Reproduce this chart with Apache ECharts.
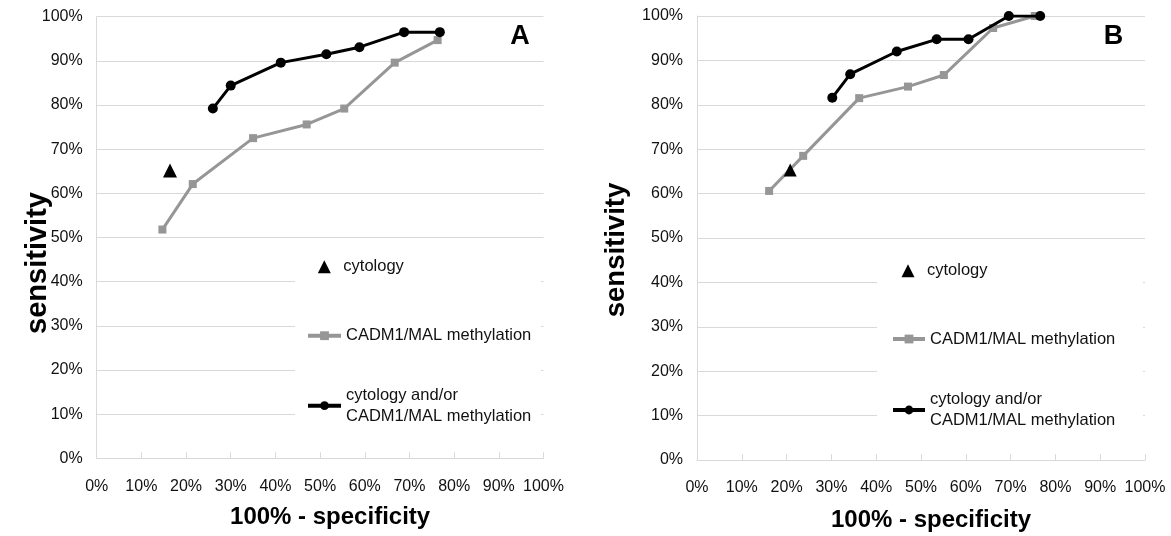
<!DOCTYPE html>
<html><head><meta charset="utf-8">
<script src="https://cdn.jsdelivr.net/npm/echarts@6/dist/echarts.min.js"></script>
<style>html,body{margin:0;padding:0;background:#fff}#c{width:1171px;height:536px}</style>
</head><body><div id="c"></div>
<script>
// ---------- data (percent) ----------
const seriesNames = ['cytology', 'CADM1/MAL methylation', 'cytology and/or CADM1/MAL methylation'];
const axisTicks = [0, 10, 20, 30, 40, 50, 60, 70, 80, 90, 100];

// Panel A
const cytoA_x = [16.4];
const cytoA_y = [65.2];
const cadmA_x = [14.7, 21.5, 35.0, 47.0, 55.4, 66.7, 76.3];
const cadmA_y = [51.8, 62.1, 72.5, 75.6, 79.2, 89.6, 94.7];
const combA_x = [26.0, 30.0, 41.2, 51.4, 58.8, 68.8, 76.8];
const combA_y = [79.2, 84.4, 89.6, 91.5, 93.1, 96.5, 96.5];

// Panel B
const cytoB_x = [20.8];
const cytoB_y = [65.3];
const cadmB_x = [16.1, 23.7, 36.2, 47.1, 55.1, 66.1, 75.4];
const cadmB_y = [60.6, 68.5, 81.5, 84.1, 86.7, 97.3, 100];
const combB_x = [30.2, 34.2, 44.6, 53.5, 60.6, 69.6, 76.6];
const combB_y = [81.6, 86.9, 92.0, 94.75, 94.75, 100, 100];

const panelLabels = ['A', 'B'];
const xTitle = '100% - specificity';
const yTitle = 'sensitivity';

// ---------- helpers ----------
const FONT = "'Liberation Sans', Arial, Helvetica, sans-serif";
const zip = (xs, ys) => xs.map((x, i) => [x, ys[i]]);
const GRAY = '#969696';
const GRID_C = '#d9d9d9';

function xAxisFor(gi, gap) {
  return {
    gridIndex: gi, type: 'value', min: axisTicks[0], max: axisTicks[axisTicks.length - 1], interval: 10,
    axisLine: { show: true, lineStyle: { color: GRID_C, width: 1 } },
    axisTick: { show: true, inside: true, length: 6, lineStyle: { color: GRID_C } },
    splitLine: { show: false },
    axisLabel: { formatter: '{value}%', fontSize: 16, color: '#111', margin: 20, fontFamily: FONT },
    name: xTitle, nameLocation: 'middle', nameGap: gap,
    nameTextStyle: { fontSize: 24, fontWeight: 'bold', color: '#000', fontFamily: FONT, padding: [0, 0, 0, 20] }
  };
}
function yAxisFor(gi) {
  return {
    gridIndex: gi, type: 'value', min: axisTicks[0], max: axisTicks[axisTicks.length - 1], interval: 10,
    axisLine: { show: true, lineStyle: { color: GRID_C, width: 1 } },
    axisTick: { show: false },
    splitLine: { show: true, lineStyle: { color: GRID_C, width: 1 } },
    axisLabel: { formatter: '{value}%', fontSize: 16, color: '#111', margin: 14, fontFamily: FONT }
  };
}
function seriesFor(gi, cyto, cadm, comb, triSize) {
  return [
    { name: seriesNames[1], type: 'line', xAxisIndex: gi, yAxisIndex: gi, data: cadm,
      symbol: 'rect', symbolSize: 8, color: GRAY, itemStyle: { color: GRAY, opacity: 1 },
      lineStyle: { color: GRAY, width: 3 }, z: 2, animation: false },
    { name: seriesNames[2], type: 'line', xAxisIndex: gi, yAxisIndex: gi, data: comb,
      symbol: 'circle', symbolSize: 10, color: '#000', itemStyle: { color: '#000', opacity: 1 },
      lineStyle: { color: '#000', width: 3 }, z: 3, animation: false },
    { name: seriesNames[0], type: 'scatter', xAxisIndex: gi, yAxisIndex: gi, data: cyto,
      symbol: 'triangle', symbolSize: triSize, color: '#000', itemStyle: { color: '#000', opacity: 1 },
      z: 4, animation: false }
  ];
}
function legendFor(name, left, top, w, h, twoLine, padLeft) {
  const lg = {
    data: [name], left: left, top: top, orient: 'vertical', padding: 0,
    itemWidth: w, itemHeight: h, itemGap: 0, selectedMode: false,
    lineStyle: { width: 4 },
    textStyle: { fontSize: 16.5, color: '#111', fontFamily: FONT, lineHeight: 21 }
  };
  if (padLeft) lg.textStyle.padding = [0, 0, 0, padLeft];
  if (twoLine) {
    lg.formatter = () => 'cytology and/or\nCADM1/MAL methylation';
    lg.textStyle.padding = [26, 0, 0, 0];
  }
  return lg;
}

const option = {
  backgroundColor: '#fff',
  animation: false,
  grid: [
    { left: 96.7, right: 627.5, top: 16.7, bottom: 77.7, outerBoundsMode: 'none', containLabel: false },
    { left: 697, right: 26, top: 16, bottom: 76, outerBoundsMode: 'none', containLabel: false }
  ],
  xAxis: [xAxisFor(0, 47), xAxisFor(1, 48)],
  yAxis: [yAxisFor(0), yAxisFor(1)],
  legend: [
    legendFor(seriesNames[0], 317.8, 256.2, 13, 13, false, 7.5),
    legendFor(seriesNames[1], 306, 325.2, 33, 11, false),
    legendFor(seriesNames[2], 306, 371.7, 33, 11, true),
    legendFor(seriesNames[0], 901.5, 260.2, 13, 13, false, 7.5),
    legendFor(seriesNames[1], 891, 328.5, 32, 11, false),
    legendFor(seriesNames[2], 891, 376, 32, 11, true)
  ],
  graphic: [
    { type: 'rect', shape: { x: 295, y: 245, width: 246, height: 205 }, style: { fill: '#fff' }, z: 1, silent: true },
    { type: 'rect', shape: { x: 877, y: 245, width: 266, height: 205 }, style: { fill: '#fff' }, z: 1, silent: true },
    { type: 'text', x: 520, y: 36.5, z: 10,
      style: { text: panelLabels[0], font: 'bold 27px ' + FONT, align: 'center', verticalAlign: 'middle', fill: '#000' } },
    { type: 'text', x: 1113.5, y: 37, z: 10,
      style: { text: panelLabels[1], font: 'bold 27px ' + FONT, align: 'center', verticalAlign: 'middle', fill: '#000' } },
    { type: 'text', x: 37.7, y: 263, rotation: Math.PI / 2, z: 10,
      style: { text: yTitle, font: 'bold 29px ' + FONT, align: 'center', verticalAlign: 'middle', fill: '#000' } },
    { type: 'text', x: 616.7, y: 250, rotation: Math.PI / 2, z: 10,
      style: { text: yTitle, font: 'bold 27.5px ' + FONT, align: 'center', verticalAlign: 'middle', fill: '#000' } }
  ],
  series: [
    ...seriesFor(0, zip(cytoA_x, cytoA_y), zip(cadmA_x, cadmA_y), zip(combA_x, combA_y), 14),
    ...seriesFor(1, zip(cytoB_x, cytoB_y), zip(cadmB_x, cadmB_y), zip(combB_x, combB_y), 13)
  ]
};

const chart = echarts.init(document.getElementById('c'), null, { renderer: 'canvas' });
chart.setOption(option);
</script>
</body></html>
